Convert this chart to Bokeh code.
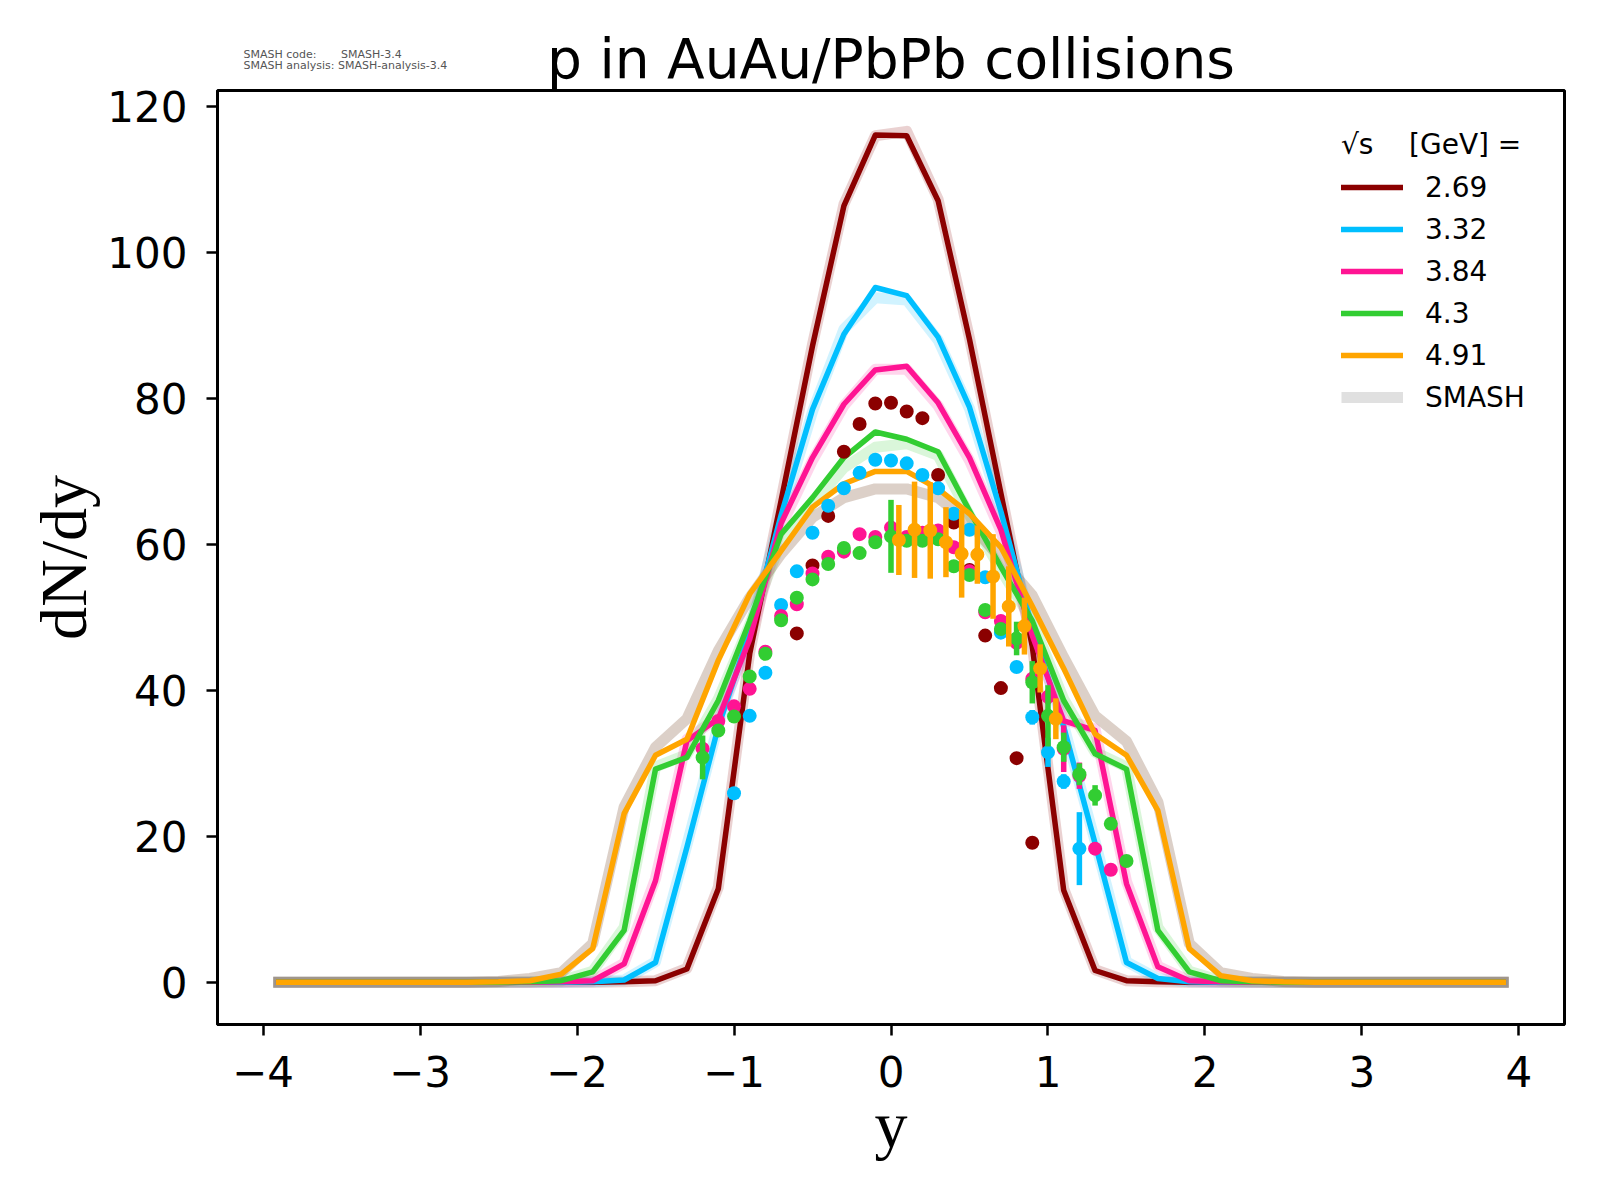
import numpy as np
from bokeh.plotting import figure
from bokeh.models import Range1d, Legend, LegendItem, ColumnDataSource, FixedTicker, Title
from bokeh.embed import file_html
from bokeh.resources import INLINE

# ---------------- data ----------------
energies = ["2.69", "3.32", "3.84", "4.3", "4.91"]
line_colors = ["#8b0000", "#00bfff", "#ff1493", "#32cd32", "#ffa500"]
band_colors = ["#8b0000", "#00bfff", "#ff1493", "#32cd32", "#734323"]
band_alphas = [0.18, 0.18, 0.18, 0.18, 0.25]

# SMASH rapidity grid
y_model = [-3.9, -3.7, -3.5, -3.3, -3.1, -2.9, -2.7, -2.5, -2.3, -2.1,
           -1.9, -1.7, -1.5, -1.3, -1.1, -0.9, -0.7, -0.5, -0.3, -0.1,
           0.1, 0.3, 0.5, 0.7, 0.9, 1.1, 1.3, 1.5, 1.7, 1.9,
           2.1, 2.3, 2.5, 2.7, 2.9, 3.1, 3.3, 3.5, 3.7, 3.9]

smash_269 = [0, 0, 0, 0, 0, 0, 0, 0, 0, 0,
             0.0, 0.05, 0.2, 1.8, 12.8, 45.0, 66.0, 87.2, 106.4, 116.1,
             116.0, 107.1, 88.1, 67.0, 46.0, 12.6, 1.6, 0.2, 0.05, 0.0,
             0, 0, 0, 0, 0, 0, 0, 0, 0, 0]
smash_332 = [0, 0, 0, 0, 0, 0, 0, 0, 0, 0,
             0.05, 0.3, 2.7, 18.5, 35.0, 48.0, 64.0, 78.5, 88.8, 95.2,
             94.1, 88.4, 78.8, 64.5, 48.5, 35.0, 19.0, 2.7, 0.5, 0.05,
             0, 0, 0, 0, 0, 0, 0, 0, 0, 0]
smash_384 = [0, 0, 0, 0, 0, 0, 0, 0, 0, 0.05,
             0.2, 2.5, 13.9, 33.1, 36.1, 47.0, 62.9, 71.9, 79.2, 83.9,
             84.4, 79.4, 71.9, 62.0, 47.5, 35.8, 34.5, 13.5, 2.1, 0.2,
             0.05, 0, 0, 0, 0, 0, 0, 0, 0, 0]
smash_430 = [0, 0, 0, 0, 0, 0, 0, 0, 0.05, 0.2,
             1.4, 7.1, 29.2, 30.8, 38.6, 49.5, 61.4, 66.4, 71.9, 75.4,
             74.4, 72.7, 64.6, 56.9, 49.5, 38.6, 31.3, 29.2, 7.1, 1.4,
             0.2, 0.05, 0, 0, 0, 0, 0, 0, 0, 0]
smash_491 = [0, 0, 0, 0, 0, 0, 0, 0.05, 0.2, 1.1,
             4.6, 23.1, 31.1, 33.3, 44.1, 53.2, 59.1, 65.1, 68.3, 70.0,
             70.0, 67.6, 64.2, 59.6, 51.5, 43.0, 34.0, 31.1, 23.5, 4.6,
             0.9, 0.2, 0.05, 0, 0, 0, 0, 0, 0, 0]

# SMASH uncertainty bands (drawn as wide translucent lines)
band_269 = [0, 0, 0, 0, 0, 0, 0, 0, 0, 0,
            0.0, 0.05, 0.2, 1.9, 13.0, 45.2, 66.2, 87.4, 106.6, 116.0,
            116.6, 107.3, 88.3, 67.2, 46.2, 12.8, 1.7, 0.2, 0.05, 0.0,
            0, 0, 0, 0, 0, 0, 0, 0, 0, 0]
band_332 = [0, 0, 0, 0, 0, 0, 0, 0, 0, 0,
            0.05, 0.3, 2.8, 18.8, 35.3, 48.2, 64.0, 78.2, 89.5, 93.8,
            93.5, 88.0, 78.6, 64.5, 48.6, 35.2, 19.3, 2.8, 0.5, 0.05,
            0, 0, 0, 0, 0, 0, 0, 0, 0, 0]
band_384 = [0, 0, 0, 0, 0, 0, 0, 0, 0, 0.05,
            0.2, 2.6, 14.2, 33.3, 36.3, 47.0, 62.5, 71.5, 79.0, 84.0,
            84.0, 79.0, 71.5, 61.8, 47.6, 36.0, 34.7, 13.8, 2.2, 0.2,
            0.05, 0, 0, 0, 0, 0, 0, 0, 0, 0]
band_430 = [0, 0, 0, 0, 0, 0, 0, 0, 0.05, 0.2,
            1.5, 7.5, 29.5, 31.2, 38.8, 49.0, 60.5, 65.5, 70.5, 73.3,
            73.8, 72.2, 64.0, 56.5, 49.5, 38.8, 31.5, 29.5, 7.5, 1.5,
            0.2, 0.05, 0, 0, 0, 0, 0, 0, 0, 0]
band_491 = [0, 0, 0, 0, 0, 0, 0, 0.1, 0.5, 1.3,
            5.3, 24.0, 32.2, 36.1, 45.4, 52.7, 58.7, 63.7, 66.4, 67.6,
            67.6, 66.4, 63.0, 58.0, 53.0, 44.5, 36.5, 33.0, 24.7, 5.3,
            1.3, 0.5, 0.1, 0, 0, 0, 0, 0, 0, 0]

# experimental data
exp_y_269 = [-0.6, -0.5, -0.4, -0.3, -0.2, -0.1, 0.0, 0.1, 0.2, 0.3, 0.4, 0.5, 0.6, 0.7, 0.8, 0.9]
exp_v_269 = [47.8, 57.1, 63.9, 72.7, 76.5, 79.3, 79.4, 78.2, 77.3, 69.5, 63.0, 56.5, 47.5, 40.3, 30.7, 19.1]
exp_e_269 = [0.3] * 16

exp_y_332 = [-1.0, -0.9, -0.8, -0.7, -0.6, -0.5, -0.4, -0.3, -0.2, -0.1, 0.0, 0.1,
             0.2, 0.3, 0.4, 0.5, 0.6, 0.7, 0.8, 0.9, 1.0, 1.1, 1.2]
exp_v_332 = [25.9, 36.5, 42.4, 51.7, 56.3, 61.6, 65.3, 67.7, 69.8, 71.6, 71.5, 71.1,
             69.5, 67.7, 64.2, 62.0, 55.5, 47.9, 43.2, 36.3, 31.5, 27.5, 18.3]
exp_e_332 = [0.5, 0.5, 0.5, 0.5, 0.5, 0.5, 0.5, 0.5, 0.5, 0.5, 0.5, 0.5,
             0.5, 0.5, 0.5, 0.5, 0.5, 0.8, 0.8, 1.0, 2.0, 1.0, 5.0]

exp_y_384 = [-1.2, -1.1, -1.0, -0.9, -0.8, -0.7, -0.6, -0.5, -0.4, -0.3, -0.2, -0.1, 0.0,
             0.1, 0.2, 0.3, 0.4, 0.5, 0.6, 0.7, 0.8, 0.9, 1.0, 1.1, 1.2, 1.3, 1.4]
exp_v_384 = [32.0, 35.8, 37.8, 40.2, 45.3, 50.2, 51.8, 56.0, 58.3, 59.0, 61.4, 61.0, 62.3,
             61.0, 61.6, 61.9, 59.6, 56.3, 50.7, 49.5, 46.5, 41.6, 39.1, 32.0, 28.3, 18.3, 15.4]
exp_e_384 = [0.5, 0.5, 0.5, 0.5, 0.5, 0.5, 0.5, 0.5, 0.5, 0.5, 0.5, 0.5, 0.5,
             0.5, 0.5, 0.5, 0.5, 0.5, 0.5, 0.5, 0.5, 0.8, 1.0, 3.2, 1.8, 0.5, 0.5]

exp_y_430 = [-1.2, -1.1, -1.0, -0.9, -0.8, -0.7, -0.6, -0.5, -0.4, -0.3, -0.2, -0.1, 0.0, 0.1,
             0.2, 0.3, 0.4, 0.5, 0.6, 0.7, 0.8, 0.9, 1.0, 1.1, 1.2, 1.3, 1.4, 1.5]
exp_v_430 = [30.8, 34.5, 36.4, 41.9, 45.0, 49.6, 52.7, 55.2, 57.3, 59.5, 58.8, 60.3, 61.1, 60.5,
             60.5, 60.7, 57.0, 55.8, 51.0, 48.4, 47.1, 41.1, 36.5, 32.2, 28.5, 25.6, 21.7, 16.6]
exp_e_430 = [3.0, 0.5, 0.5, 0.5, 0.5, 0.5, 0.5, 0.5, 0.5, 0.5, 0.5, 0.5, 5.0, 0.5,
             0.5, 0.5, 0.5, 0.5, 0.5, 0.8, 2.3, 2.9, 4.2, 2.0, 1.5, 1.4, 0.5, 0.5]

exp_y_491 = [0.05, 0.15, 0.25, 0.35, 0.45, 0.55, 0.65, 0.75, 0.85, 0.95, 1.05]
exp_v_491 = [60.6, 62.0, 61.9, 60.3, 58.7, 58.6, 55.6, 51.5, 48.8, 43.0, 36.1]
exp_e_491 = [4.8, 6.6, 6.6, 4.8, 6.0, 4.0, 5.8, 5.5, 3.9, 3.3, 2.8]

x_ticks = [-4, -3, -2, -1, 0, 1, 2, 3, 4]
y_ticks = [0, 20, 40, 60, 80, 100, 120]

smash_lines = [smash_269, smash_332, smash_384, smash_430, smash_491]
smash_bands = [band_269, band_332, band_384, band_430, band_491]
exp_sets = [(exp_y_269, exp_v_269, exp_e_269), (exp_y_332, exp_v_332, exp_e_332),
            (exp_y_384, exp_v_384, exp_e_384), (exp_y_430, exp_v_430, exp_e_430),
            (exp_y_491, exp_v_491, exp_e_491)]

# ---------------- figure ----------------
W, H = 1580, 1184
p = figure(width=W, height=H, output_backend="svg", toolbar_location=None,
           x_range=Range1d(-4.29, 4.29), y_range=Range1d(-5.8, 122.2),
           min_border_left=217, min_border_right=16, min_border_top=90,
           min_border_bottom=160)
p.title_location = None
p.background_fill_color = "white"
p.border_fill_color = "white"
p.outline_line_color = "black"
p.outline_line_width = 3
p.xgrid.visible = False
p.ygrid.visible = False

for ax, ticks in ((p.xaxis, x_ticks), (p.yaxis, y_ticks)):
    ax.ticker = FixedTicker(ticks=ticks)
    ax.minor_tick_line_color = None
    ax.major_tick_in = 0
    ax.major_tick_out = 11
    ax.major_tick_line_width = 2.5
    ax.axis_line_width = 3
    ax.major_label_text_font = "DejaVu Sans"
    ax.major_label_text_font_size = "42px"
    ax.major_label_text_color = "black"
    ax.axis_label_text_font = "Liberation Serif"
    ax.axis_label_text_font_size = "66px"
    ax.axis_label_text_font_style = "normal"
    ax.axis_label_text_color = "black"
p.xaxis.major_label_standoff = 20
p.yaxis.major_label_standoff = 19
p.xaxis.major_label_overrides = {t: (str(t).replace("-", "\u2212")) for t in x_ticks}
p.xaxis.axis_label = "y"
p.yaxis.axis_label = "dN/dy"
p.xaxis.axis_label_standoff = -2
p.yaxis.axis_label_standoff = 4

# bands
for band, c, a in zip(smash_bands, band_colors, band_alphas):
    p.line(y_model, band, line_color=c, line_alpha=a, line_width=11,
           line_join="round", line_cap="square")

# lines
line_renderers = []
for ys, c in zip(smash_lines, line_colors):
    r = p.line(y_model, ys, line_color=c, line_width=5.5, line_join="round", line_cap="square")
    line_renderers.append(r)

# experimental points with error bars
for (ex, ev, ee), c in zip(exp_sets, line_colors):
    ev_a = np.array(ev)
    ee_a = np.array(ee)
    src = ColumnDataSource(dict(x=ex, y=ev, lo=ev_a - ee_a, hi=ev_a + ee_a))
    p.segment(x0="x", y0="lo", x1="x", y1="hi", source=src, line_color=c, line_width=5.5)
    p.scatter(x="x", y="y", source=src, size=14, fill_color=c, line_color=c, line_width=0)

# SMASH legend handle (no visible data)
smash_handle = p.line([np.nan], [np.nan], line_color="#e0e0e0", line_width=11)

items = [LegendItem(label=e, renderers=[r]) for e, r in zip(energies, line_renderers)]
items.append(LegendItem(label="SMASH", renderers=[smash_handle]))
legend = Legend(items=items, location=(1120, 605),
                title="\u221as\u00a0\u00a0\u00a0 [GeV] =",
                title_text_font="DejaVu Sans", title_text_font_size="28px",
                title_text_font_style="normal", title_text_color="black",
                title_standoff=8,
                label_text_font="DejaVu Sans", label_text_font_size="28px",
                label_text_color="black",
                glyph_width=62, glyph_height=36, label_height=36, spacing=6,
                label_standoff=22, padding=4, margin=0,
                border_line_alpha=0, background_fill_alpha=0)
p.add_layout(legend, "center")

# titles: main title nearest the frame, SMASH version info pulled down beside it
p.add_layout(Title(text="p in AuAu/PbPb collisions", align="center",
                   text_font="DejaVu Sans", text_font_size="55px",
                   text_font_style="normal", text_color="black", standoff=0), "above")
p.add_layout(Title(text="SMASH code:\u00a0\u00a0\u00a0\u00a0\u00a0\u00a0\u00a0SMASH-3.4\n"
                        "SMASH analysis: SMASH-analysis-3.4",
                   align="left", offset=26, text_line_height=0.85,
                   text_font="DejaVu Sans", text_font_size="11px",
                   text_font_style="normal", text_color="#555555", standoff=-95), "above")

open("out.html", "w").write(file_html(p, INLINE))
